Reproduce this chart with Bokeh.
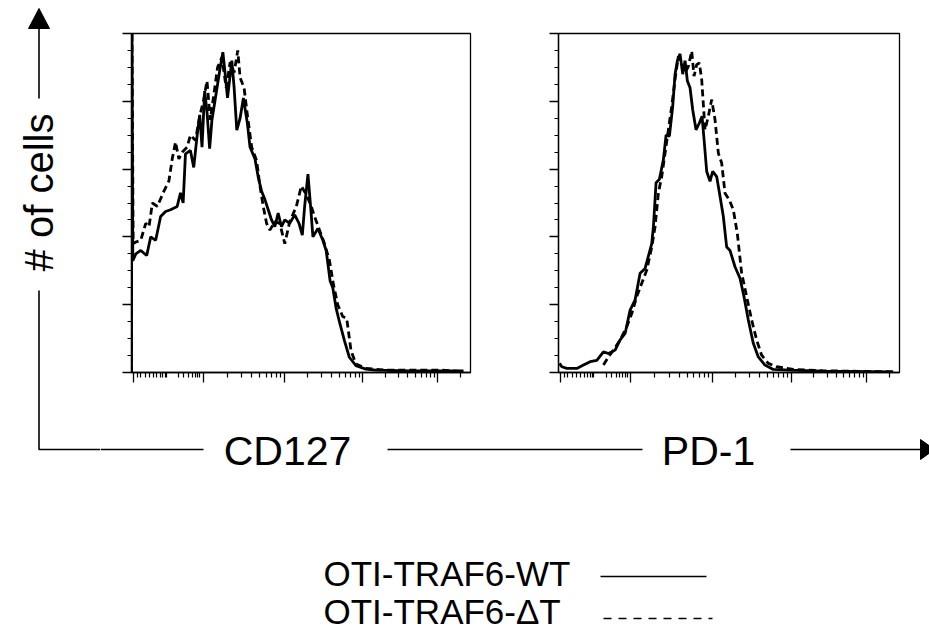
import numpy as np
from bokeh.plotting import figure
from bokeh.layouts import row, column
from bokeh.models import Range1d, FixedTicker, CustomJSTickFormatter
from bokeh.core.properties import value
from bokeh.embed import file_html
from bokeh.resources import INLINE

# ---------------- data (x: display channel 0-1024, y: % of max) ----------------
cd127_wt_x = [0, 1, 4, 13, 28, 46, 58, 73, 88, 103, 118, 138, 148, 156, 163, 178, 188, 200, 206, 213,
              221, 228, 236, 243, 256, 268, 276, 283, 290, 296, 303, 310, 318, 328, 338, 350, 358, 373,
              383, 393, 403, 413, 423, 433, 443, 453, 463, 478, 493, 506, 516, 523, 533, 541, 548, 563,
              578, 588, 600, 608, 618, 628, 643, 658, 678, 708, 738, 838, 938, 1003]
cd127_wt_y = [0, 110, 33, 35, 36, 34.5, 40, 39, 46, 47.5, 48, 49, 53, 50, 64.5, 65.5, 60.5, 71.5, 76, 66.5,
              83, 77, 66, 74.5, 82.5, 90, 94.5, 88, 81, 86, 92, 84, 71.5, 75, 81, 73.5, 66.5, 63,
              57.5, 53.5, 51, 48, 45, 43, 47, 43, 45, 44, 46.5, 44, 40.5, 49, 58.5, 49, 40, 42.5,
              39, 36, 27, 25, 19, 15, 9.5, 4.5, 2, 1, 0.7, 0.5, 0.5, 0.5]

cd127_dt_x = [0, 1, 5, 13, 28, 43, 53, 63, 78, 98, 113, 123, 133, 143, 153, 168, 178, 193, 206, 218,
              228, 238, 248, 260, 273, 286, 298, 310, 321, 328, 340, 350, 363, 378, 388, 398, 408, 418,
              433, 448, 463, 478, 498, 513, 528, 543, 553, 568, 583, 598, 610, 623, 638, 650, 663, 678,
              708, 768, 938, 1003]
cd127_dt_y = [0, 110, 38, 38.5, 39, 44, 43, 50, 49, 53.5, 56.5, 63, 68, 63, 65, 66.5, 70, 68.5, 75.5, 80.5,
              86, 74.5, 81.5, 90, 93, 84, 91.5, 88.5, 95, 87, 84, 76, 66.5, 62.5, 55, 49, 44, 42,
              44.5, 44, 38, 44.5, 49, 55, 52.5, 49, 46, 42, 38, 33, 26, 20, 16.5, 16, 6.5, 2.5,
              1.2, 0.7, 0.7, 0.3]

pd1_wt_x = [3, 10, 25, 55, 75, 95, 115, 135, 150, 170, 185, 200, 215, 230, 245, 260, 280, 285, 293, 303,
            315, 323, 333, 343, 350, 357, 365, 373, 380, 387, 395, 403, 413, 423, 431, 438, 445, 455,
            463, 475, 485, 495, 505, 515, 530, 545, 557, 570, 585, 600, 620, 645, 695, 795, 1005]
pd1_wt_y = [2.7, 1.7, 1.2, 1.2, 2.2, 3.2, 3.6, 6.1, 5.6, 6.6, 9.6, 11.5, 18.4, 21.4, 29.3, 30.7, 38, 43, 56, 57,
            62.8, 70, 69.7, 78.5, 88, 92, 94, 88, 92, 86, 84, 77.5, 71.6, 73.6, 75.6, 67.7, 59.3, 56.4,
            59.3, 57.8, 52, 46, 37, 36, 31.2, 27.8, 22.4, 15.5, 8.6, 4.6, 2.2, 0.9, 0.7, 0.4, 0.2]

pd1_dt_x = [135, 150, 165, 185, 205, 220, 235, 250, 265, 280, 290, 300, 310, 320, 330, 340, 350, 360, 370,
            380, 390, 400, 407, 415, 423, 430, 440, 450, 460, 470, 480, 490, 500, 513, 525, 537, 550,
            565, 580, 595, 610, 630, 655, 705, 795, 1005]
pd1_dt_y = [2.2, 4.6, 6.6, 9.6, 13.5, 17.4, 22.4, 26.3, 30.2, 37, 43, 53, 57.8, 64.7, 71.6, 78.5, 86.5, 93.3, 91.3,
            88.4, 90.3, 94.8, 87.4, 90.8, 91.3, 86.4, 71.6, 75.6, 80.5, 74.6, 64.7, 61.8, 52.9, 50.9, 48, 41, 29.3,
            22.4, 15.5, 9.6, 5.1, 2.7, 1.7, 0.9, 0.5, 0.2]

panel_labels = ["CD127", "PD-1"]
series_labels = ["OTI-TRAF6-WT", "OTI-TRAF6-\u0394T"]
y_axis_label = "# of cells"

# axis tick layout (display channels)
x_major = [6, 216, 461, 699, 925]
x_minor_first = [17, 27, 42, 55, 67, 77, 87, 95, 102, 106, 143, 158, 173, 183, 193, 200, 206]
y_major = [0, 20, 40, 60, 80, 100]
y_minor = list(range(0, 101, 5))

FONT = value("Liberation Sans")


def minor_ticks():
    t = list(x_minor_first)
    widths = [245, 238, 226, 226]
    for start, w in zip(x_major[1:], widths):
        for k in range(2, 10):
            v = start + w * np.log10(k)
            if v < 1024:
                t.append(float(v))
    return t


def panel(wx, wy, dx, dy, width, mbl):
    p = figure(width=width, height=395, x_range=Range1d(0, 1024), y_range=Range1d(0, 100),
               output_backend="svg", toolbar_location=None,
               min_border_left=mbl, min_border_right=30, min_border_top=33, min_border_bottom=23)
    p.grid.visible = False
    p.outline_line_color = "black"
    p.outline_line_width = 1.3
    p.background_fill_color = "white"
    p.border_fill_color = "white"
    p.line(wx, wy, line_color="black", line_width=2.8)
    p.line(dx, dy, line_color="black", line_width=2.8, line_dash="7 4")
    blank = CustomJSTickFormatter(code="return ''")
    xa = p.xaxis[0]
    xa.ticker = FixedTicker(ticks=x_major, minor_ticks=minor_ticks())
    xa.formatter = blank
    xa.major_tick_out = 10
    xa.minor_tick_out = 5
    xa.major_tick_in = 0
    xa.minor_tick_in = 0
    xa.major_tick_line_width = 1.3
    xa.minor_tick_line_width = 1.2
    xa.axis_line_width = 1.3
    xa.major_label_standoff = 0
    ya = p.yaxis[0]
    ya.ticker = FixedTicker(ticks=y_major, minor_ticks=y_minor)
    ya.formatter = blank
    ya.major_tick_out = 9
    ya.minor_tick_out = 4
    ya.major_tick_in = 0
    ya.minor_tick_in = 0
    ya.major_tick_line_width = 1.3
    ya.minor_tick_line_width = 1.2
    ya.axis_line_width = 1.3
    ya.major_label_standoff = 0
    return p


fig1 = panel(cd127_wt_x, cd127_wt_y, cd127_dt_x, cd127_dt_y, 400, 31)
fig2 = panel(pd1_wt_x, pd1_wt_y, pd1_dt_x, pd1_dt_y, 429, 58)

# ---------------- left decoration (pixel space) ----------------
figL = figure(width=100, height=634, x_range=Range1d(0, 100), y_range=Range1d(634, 0),
              x_axis_type=None, y_axis_type=None, output_backend="svg", toolbar_location=None,
              min_border=0)
figL.grid.visible = False
figL.outline_line_color = None
figL.line([38.5, 38.5], [26, 98], line_color="black", line_width=1.6)
figL.patch([28, 49, 38.5], [28, 28, 8], color="black")
figL.line([38.5, 38.5, 100], [290, 449, 449], line_color="black", line_width=1.6)
figL.text(x=[38], y=[192], text=[y_axis_label], angle=np.pi / 2, text_align="center",
          text_baseline="middle", text_font=FONT, text_font_size=value("40px"), text_color="black")

# ---------------- bottom decoration (pixel space) ----------------
figB = figure(width=829, height=239, x_range=Range1d(100, 929), y_range=Range1d(634, 395),
              x_axis_type=None, y_axis_type=None, output_backend="svg", toolbar_location=None,
              min_border=0)
figB.grid.visible = False
figB.outline_line_color = None
figB.line([100, 203], [449, 449], line_color="black", line_width=1.6)
figB.line([387, 642], [449, 449], line_color="black", line_width=1.6)
figB.line([790, 922], [449, 449], line_color="black", line_width=1.6)
figB.patch([920, 920, 934], [439, 459, 449], color="black")
figB.text(x=[287, 708], y=[450, 450], text=panel_labels, text_align="center", text_baseline="middle",
          text_font=FONT, text_font_size=value("41px"), text_color="black")
figB.text(x=[323, 323], y=[573, 611], text=series_labels, text_align="left", text_baseline="middle",
          text_font=FONT, text_font_size=value("35px"), text_color="black")
figB.line([600, 706], [576, 576], line_color="black", line_width=1.6)
figB.line([603, 712], [618, 618], line_color="black", line_width=1.6, line_dash="8 7")

layout = row(figL, column(row(fig1, fig2), figB))

open("out.html", "w").write(file_html(layout, INLINE))
